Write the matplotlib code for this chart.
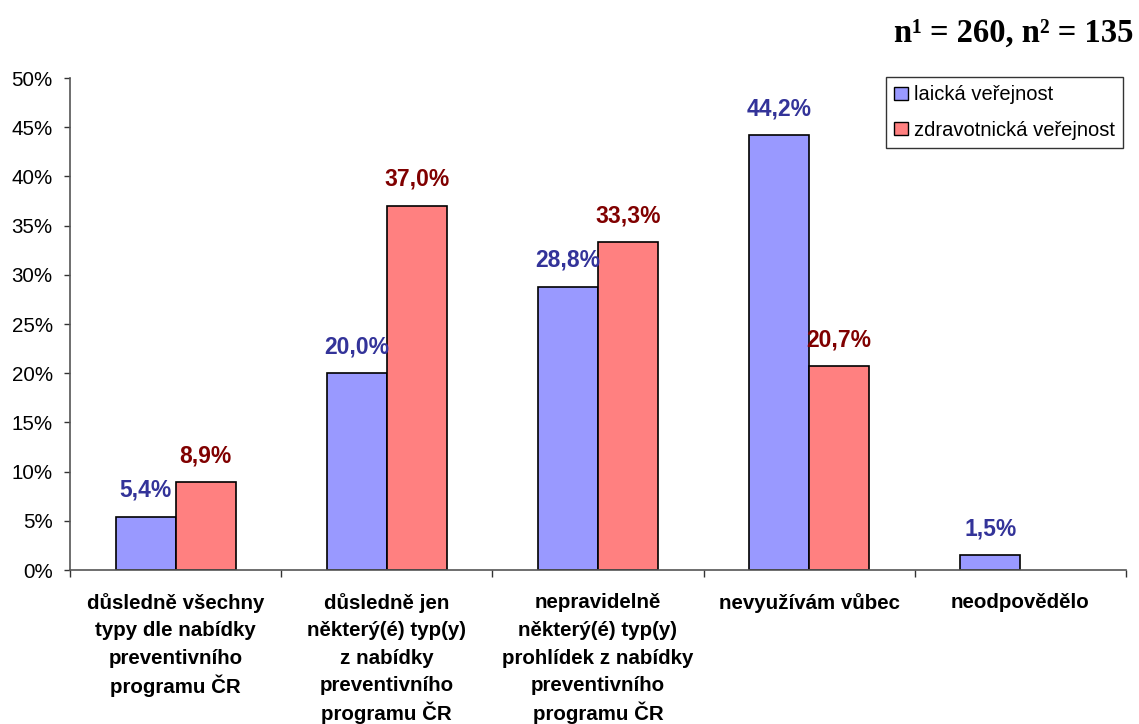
import matplotlib
matplotlib.use("Agg")
import matplotlib.pyplot as plt
from matplotlib.patches import Patch
import numpy as np

categories = [
    "důsledně všechny\ntypy dle nabídky\npreventivního\nprogramu ČR",
    "důsledně jen\nněkterý(é) typ(y)\nz nabídky\npreventivního\nprogramu ČR",
    "nepravidelně\nněkterý(é) typ(y)\nprohlídek z nabídky\npreventivního\nprogramu ČR",
    "nevyužívám vůbec",
    "neodpovědělo",
]
series_names = ["laická veřejnost", "zdravotnická veřejnost"]
laicka = [5.4, 20.0, 28.8, 44.2, 1.5]
zdravotnicka = [8.9, 37.0, 33.3, 20.7, None]
yticks = [0, 5, 10, 15, 20, 25, 30, 35, 40, 45, 50]

plt.rcParams["font.family"] = ["Liberation Sans", "DejaVu Sans"]

fig = plt.figure(figsize=(11.39, 7.24), dpi=100)
ax = fig.add_axes([70 / 1139, 154 / 724, 1056 / 1139, 492 / 724])

x = np.arange(len(categories))
w = 0.284
fill_colors = ["#9999FF", "#FF8080"]
label_colors = ["#333399", "#800000"]

for i, vals in enumerate([laicka, zdravotnicka]):
    off = (i - 0.5) * w
    for xi, v in zip(x, vals):
        if v is None:
            continue
        ax.bar(xi + off, v, width=w, color=fill_colors[i], edgecolor="black",
               linewidth=1.2, zorder=2)
        ax.annotate(f"{v:.1f}%".replace(".", ","), (xi + off, v),
                    xytext=(0, 20), textcoords="offset pixels",
                    ha="center", va="baseline", fontsize=16.5,
                    fontweight="bold", color=label_colors[i], zorder=3)

ax.set_xlim(-0.5, len(categories) - 0.5)
ax.set_ylim(0, 50)
ax.set_yticks(yticks)
ax.set_yticklabels([f"{t}%" for t in yticks], fontsize=14.8)

# category labels: one text per line at a fixed line pitch
ax.set_xticks(x)
ax.set_xticklabels([])
for xi, cat in zip(x, categories):
    for j, line in enumerate(cat.split("\n")):
        ax.annotate(line, (xi, 0), xytext=(0, -(33 + 27.5 * j)),
                    textcoords="offset pixels", ha="center", va="center",
                    fontsize=14.8, fontweight="bold", annotation_clip=False)
ax.set_xticks(np.arange(-0.5, len(categories)), minor=True)
ax.tick_params(axis="x", which="major", length=0)
ax.tick_params(axis="x", which="minor", length=5, width=1.0, direction="out",
               color="#333333")
ax.tick_params(axis="y", length=4.5, width=1.0, direction="out",
               color="#333333", pad=8)

for s in ["top", "right"]:
    ax.spines[s].set_visible(False)
for s in ["left", "bottom"]:
    ax.spines[s].set_color("#555555")
    ax.spines[s].set_linewidth(1.2)

handles = [Patch(facecolor=c, edgecolor="black", linewidth=1.0)
           for c in fill_colors]
leg = ax.legend(handles, series_names, loc="upper right",
                bbox_to_anchor=(1123 / 1139, 1 - 77 / 724),
                bbox_transform=fig.transFigure, fontsize=14.5,
                frameon=True, fancybox=False, edgecolor="black",
                handlelength=0.65, handleheight=0.65, handletextpad=0.3,
                labelspacing=0.8, borderpad=0.42, borderaxespad=0)
leg.get_frame().set_linewidth(1.0)

fig.text(1134 / 1139, 1 - 33 / 724, "n¹ = 260, n² = 135",
         ha="right", va="center", fontsize=23.5, fontweight="bold",
         family=["Liberation Serif", "DejaVu Serif"])

fig.savefig("out.png", dpi=100)
